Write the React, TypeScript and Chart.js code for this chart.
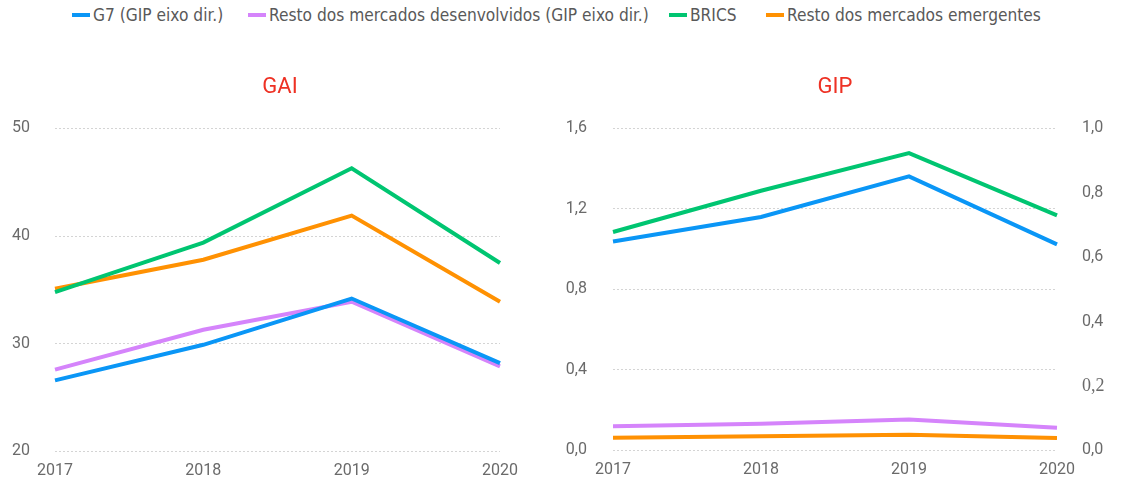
import React, { useEffect, useRef } from "react";
import { Chart, registerables } from "chart.js";

Chart.register(...registerables);

const years = ["2017", "2018", "2019", "2020"];

// GAI panel (single axis)
const gaiG7 = [26.6, 29.9, 34.2, 28.2];
const gaiRestoDesenv = [27.6, 31.3, 33.9, 27.9];
const gaiBrics = [34.8, 39.4, 46.3, 37.5];
const gaiRestoEmerg = [35.1, 37.8, 41.9, 33.9];

// GIP panel (G7 and Resto desenvolvidos on right axis)
const gipG7 = [0.649, 0.725, 0.851, 0.64];
const gipRestoDesenv = [0.075, 0.083, 0.096, 0.07];
const gipBrics = [1.085, 1.29, 1.477, 1.168];
const gipRestoEmerg = [0.063, 0.07, 0.078, 0.061];

const seriesNames = [
  "G7 (GIP eixo dir.)",
  "Resto dos mercados desenvolvidos (GIP eixo dir.)",
  "BRICS",
  "Resto dos mercados emergentes",
];
const seriesColors = ["#0a96f6", "#d584fb", "#00c571", "#ff9102"];

const tickColor = "#6a6a6a";
const tickFont = { family: "Roboto", size: 16 };
const titleColor = "#ee3124";

const fmt = (v: number) => v.toFixed(1).replace(".", ",");

function ds(label: string, data: number[], color: string, axis = "y") {
  return {
    label,
    data,
    borderColor: color,
    backgroundColor: color,
    borderWidth: 4,
    pointRadius: 0,
    tension: 0,
    fill: false,
    yAxisID: axis,
  };
}

function baseX(padRight: number) {
  return {
    offset: false,
    grid: { display: false, drawTicks: false },
    border: { display: false },
    ticks: { padding: 10, color: tickColor, font: tickFont, maxRotation: 0, autoSkip: false },
    afterFit: (s: any) => {
      s.height = 32;
      if (padRight > 0) s.paddingRight = padRight;
    },
  };
}

function title(text: string) {
  return {
    display: true,
    text,
    color: titleColor,
    font: { family: "Roboto", size: 22, weight: "normal" as const },
    padding: { top: 20, bottom: 28 },
  };
}

function GaiChart() {
  const ref = useRef<HTMLCanvasElement>(null);
  useEffect(() => {
    if (!ref.current) return;
    const chart = new Chart(ref.current, {
      type: "line",
      data: {
        labels: years,
        datasets: [
          ds(seriesNames[0], gaiG7, seriesColors[0]),
          ds(seriesNames[1], gaiRestoDesenv, seriesColors[1]),
          ds(seriesNames[2], gaiBrics, seriesColors[2]),
          ds(seriesNames[3], gaiRestoEmerg, seriesColors[3]),
        ],
      },
      options: {
        animation: false,
        responsive: false,
        maintainAspectRatio: false,
        layout: { padding: 0 },
        plugins: {
          legend: { display: false },
          tooltip: { enabled: false },
          title: title("GAI"),
        },
        scales: {
          x: baseX(60) as any,
          y: {
            min: 20,
            max: 50,
            ticks: { stepSize: 10, padding: 25, color: tickColor, font: tickFont },
            grid: { color: "#d4d4d4", drawTicks: false, lineWidth: 1 },
            border: { display: false, dash: [2, 2] },
            afterFit: (s: any) => {
              s.width = 55;
            },
          } as any,
        },
      },
    });
    return () => chart.destroy();
  }, []);
  return (
    <canvas
      ref={ref}
      width={560}
      height={432}
      style={{ position: "absolute", left: 0, top: 54, width: 560, height: 432 }}
    />
  );
}

function GipChart() {
  const ref = useRef<HTMLCanvasElement>(null);
  useEffect(() => {
    if (!ref.current) return;
    const chart = new Chart(ref.current, {
      type: "line",
      data: {
        labels: years,
        datasets: [
          ds(seriesNames[0], gipG7, seriesColors[0], "y1"),
          ds(seriesNames[1], gipRestoDesenv, seriesColors[1], "y1"),
          ds(seriesNames[2], gipBrics, seriesColors[2], "y"),
          ds(seriesNames[3], gipRestoEmerg, seriesColors[3], "y"),
        ],
      },
      options: {
        animation: false,
        responsive: false,
        maintainAspectRatio: false,
        layout: { padding: 0 },
        plugins: {
          legend: { display: false },
          tooltip: { enabled: false },
          title: title("GIP"),
        },
        scales: {
          x: baseX(0) as any,
          y: {
            position: "left",
            min: 0,
            max: 1.6,
            ticks: {
              stepSize: 0.4,
              padding: 26,
              color: tickColor,
              font: tickFont,
              callback: (v: any) => fmt(Number(v)),
            },
            grid: { color: "#d4d4d4", drawTicks: false, lineWidth: 1 },
            border: { display: false, dash: [2, 2] },
            afterFit: (s: any) => {
              s.width = 53;
            },
          } as any,
          y1: {
            position: "right",
            min: 0,
            max: 1,
            ticks: {
              stepSize: 0.2,
              padding: 25,
              color: tickColor,
              font: (ctx: any) => {
                const v = ctx && ctx.tick ? Number(ctx.tick.value) : NaN;
                return Math.abs(v - 0.2) < 1e-6
                  ? { family: "'Liberation Serif', 'DejaVu Serif', 'Times New Roman', serif", size: 18 }
                  : tickFont;
              },
              callback: (v: any) => fmt(Number(v)),
            },
            grid: { display: false, drawTicks: false },
            border: { display: false },
            afterFit: (s: any) => {
              s.width = 53;
            },
          } as any,
        },
      },
    });
    return () => chart.destroy();
  }, []);
  return (
    <canvas
      ref={ref}
      width={550}
      height={432}
      style={{ position: "absolute", left: 560, top: 54, width: 550, height: 432 }}
    />
  );
}

const legendLefts = [72, 248, 669, 766];

function Legend() {
  return (
    <>
      {seriesNames.map((name, i) => (
        <div
          key={name}
          style={{
            position: "absolute",
            left: legendLefts[i],
            top: -1,
            height: 32,
            display: "flex",
            alignItems: "center",
            whiteSpace: "nowrap",
            fontFamily: "'DejaVu Sans Condensed', 'DejaVu Sans'",
            fontStretch: "condensed",
            fontSize: 17.2,
            color: "#595959",
          }}
        >
          <span
            style={{
              display: "inline-block",
              width: 18,
              height: 4,
              background: seriesColors[i],
              marginRight: 3,
            }}
          />
          <span>{name}</span>
        </div>
      ))}
    </>
  );
}

export default function App() {
  return (
    <div
      style={{
        position: "absolute",
        left: 0,
        top: 0,
        width: 1123,
        height: 482,
        background: "#ffffff",
        overflow: "hidden",
      }}
    >
      <Legend />
      <GaiChart />
      <GipChart />
    </div>
  );
}
